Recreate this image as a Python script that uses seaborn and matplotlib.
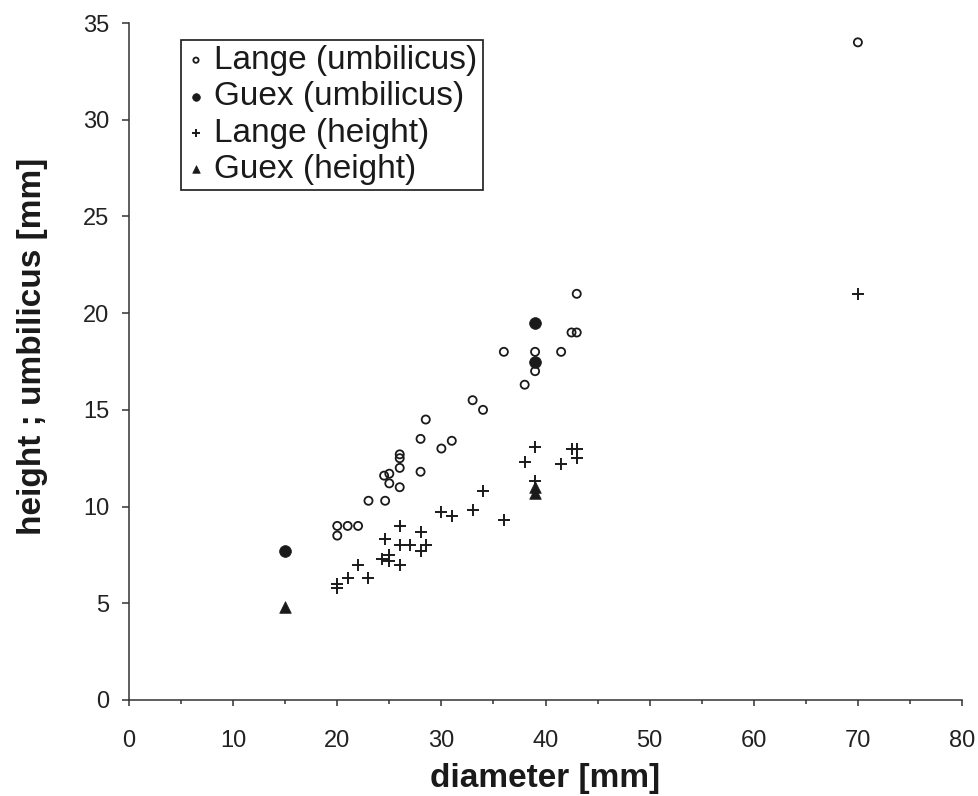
import matplotlib
matplotlib.use("Agg")
import matplotlib.pyplot as plt
import seaborn as sns
from matplotlib.ticker import MultipleLocator

# -------------------------
# Data
# -------------------------
lange_umb_diam = [70, 43, 42.5, 43, 36, 39, 41.5, 39, 38, 33, 34, 28.5, 28, 30, 31,
                  26, 26, 26, 25, 24.5, 28, 25, 26, 23, 24.6, 20, 21, 22, 20]
lange_umb_val = [34, 21, 19, 19, 18, 18, 18, 17, 16.3, 15.5, 15, 14.5, 13.5, 13, 13.4,
                 12.7, 12.5, 12, 11.7, 11.6, 11.8, 11.2, 11, 10.3, 10.3, 9, 9, 9, 8.5]

guex_umb_diam = [15, 39, 39]
guex_umb_val = [7.7, 19.5, 17.5]

lange_h_diam = [70, 39, 42.5, 43, 38, 41.5, 43, 39, 34, 30, 31, 33, 36, 26, 28,
                24.6, 26, 27, 28.5, 28, 24.3, 25, 25, 26, 22, 21, 23, 20, 20]
lange_h_val = [21, 13.1, 13, 13, 12.3, 12.2, 12.5, 11.3, 10.8, 9.7, 9.5, 9.8, 9.3, 9, 8.7,
               8.3, 8, 8, 8, 7.7, 7.3, 7.5, 7.2, 7, 7, 6.3, 6.3, 6, 5.8]

guex_h_diam = [15, 39, 39]
guex_h_val = [4.8, 11, 10.7]

sns.set_style("ticks")
plt.rcParams["font.family"] = ["Liberation Sans", "DejaVu Sans"]

ink = "#1a1a1a"

fig = plt.figure(figsize=(9.79, 7.96), dpi=100)
ax = fig.add_axes([129 / 979, 1 - 700 / 796, (962 - 129) / 979, (700 - 23) / 796])

sns.scatterplot(x=lange_umb_diam, y=lange_umb_val, ax=ax, marker="o", s=34,
                facecolor="none", edgecolor=ink, linewidth=1.3,
                label="Lange (umbilicus)")
sns.scatterplot(x=guex_umb_diam, y=guex_umb_val, ax=ax, marker="o", s=72,
                color=ink, edgecolor=ink, linewidth=0.5,
                label="Guex (umbilicus)")
sns.scatterplot(x=lange_h_diam, y=lange_h_val, ax=ax, marker="+", s=70,
                color=ink, linewidth=1.4, label="Lange (height)")
sns.scatterplot(x=guex_h_diam, y=guex_h_val, ax=ax, marker="^", s=70,
                color=ink, edgecolor=ink, linewidth=0.5,
                label="Guex (height)")

ax.set_xlim(0, 80)
ax.set_ylim(0, 35)
ax.xaxis.set_major_locator(MultipleLocator(10))
ax.xaxis.set_minor_locator(MultipleLocator(5))
ax.yaxis.set_major_locator(MultipleLocator(5))

sns.despine(ax=ax)
for side in ["left", "bottom"]:
    ax.spines[side].set_color("#333333")
    ax.spines[side].set_linewidth(1.1)

ax.tick_params(axis="both", which="major", width=1.1, color="#333333",
               labelsize=17, labelcolor="#222222")
ax.tick_params(axis="x", which="major", length=4.5, pad=17)
ax.tick_params(axis="y", which="major", length=5, pad=9)
ax.tick_params(axis="x", which="minor", length=3, width=1.1, color="#333333")

ax.set_xlabel("diameter [mm]", fontsize=24, fontweight="bold", color=ink, labelpad=8)
ax.set_ylabel("height ; umbilicus [mm]", fontsize=24, fontweight="bold", color=ink)
ax.yaxis.set_label_coords(-0.097, 0.523)

leg = ax.legend(loc="upper left", bbox_to_anchor=(0.0624, 0.975), borderaxespad=0,
                fontsize=24, frameon=True, fancybox=False, framealpha=1,
                handlelength=0.6, handletextpad=0.25, labelspacing=0.16,
                borderpad=0.15, markerscale=0.65)
leg.get_frame().set_edgecolor(ink)
leg.get_frame().set_linewidth(1.2)
for t in leg.get_texts():
    t.set_color(ink)

fig.savefig("out.png", dpi=100)
